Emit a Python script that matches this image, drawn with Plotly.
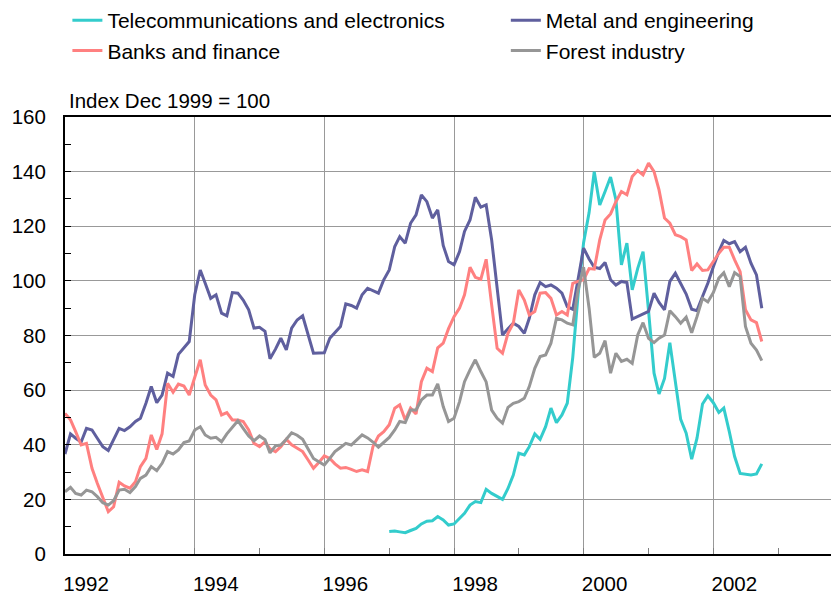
import pandas as pd
import plotly.graph_objects as go

# Monthly index values, Dec 1999 = 100
start_all = "1992-01-01"
start_telecom = "1997-01-01"

metal = [36.6, 44, 42.4, 41, 46, 45.4, 42.4, 39.3, 37.9, 41.8,
         46, 45.2, 46.6, 48.5, 49.7, 55.2, 61.3, 55.4, 58.2, 66.2,
         65, 73.1, 75.3, 77.8, 94.9, 104, 99.1, 93.6, 94.9, 88.2,
         87.2, 95.7, 95.5, 93, 89.4, 82.7, 83, 81.5, 71.5, 75,
         79, 74.7, 82.7, 85.7, 87.2, 80, 73.5, 73.6, 73.7, 79,
         81, 83.3, 91.6, 91, 90, 94.9, 97.3, 96.5, 95.5, 100.4,
         104, 112.6, 116.2, 113.8, 121.1, 124.2, 131.5, 129, 123, 126,
         113, 107.1, 105.9, 110.7, 118.1, 122.3, 130.6, 127, 127.8, 115,
         96.7, 80.2, 82.5, 84.5, 83.3, 80.8, 86.3, 94.9, 99.4, 97.9,
         98.5, 97.3, 95.5, 90.6, 89.6, 100.4, 112, 108, 105, 104.5,
         106.7, 100.4, 98.5, 99.8, 99.4, 86, 86.9, 87.9, 88.8, 95.5,
         92.1, 89.4, 99.8, 102.8, 99.1, 95.2, 89.6, 89.1, 94.3, 99.1,
         105.2, 110.7, 114.8, 113.6, 114.4, 110.7, 112.3, 106.5, 102.2, 90]

banks = [51.5, 49.1, 44.8, 39.9, 40.5, 31.4, 25.9, 21, 15.5, 17.3,
         26.3, 24.9, 24.1, 26.5, 32, 35, 43.6, 38.3, 44, 62.5,
         59.2, 62.2, 61.5, 58.2, 65, 71.1, 61.9, 58.2, 56.4, 50.9,
         51.8, 49.1, 49.1, 48.5, 45.4, 40.5, 39.3, 41.1, 38.5, 37.5,
         39.3, 42, 40, 38.7, 37.5, 34.5, 31.4, 33.5, 35.9, 35,
         33, 31.4, 31.7, 31, 30.2, 30.8, 30.2, 39.3, 43.2, 44.8,
         47.3, 53.4, 54.6, 49.1, 53.4, 51.3, 63.1, 68, 66.8, 75.5,
         77.2, 82.5, 86.9, 90, 94.9, 105, 101.3, 100.6, 107.9, 91.2,
         75.3, 73.5, 80.8, 84.5, 96.7, 93, 87.5, 88.8, 95.5, 95.7,
         93.6, 87.5, 88.8, 87.5, 99.1, 99.8, 100.4, 104.5, 104.3, 115,
         122.3, 124.5, 129, 132.7, 131.5, 138.2, 140.4, 138.8, 143.1, 140,
         133.3, 123, 121.1, 116.9, 116.2, 115, 103.8, 106.2, 103.8, 104,
         107.1, 110.1, 112.3, 112.3, 107.7, 103.4, 89.4, 85.7, 84.7, 77.8]

forest = [22.8, 24.4, 22.2, 21.6, 23.4, 22.8, 21, 18.8, 17.9, 19.5,
          23.4, 23.7, 22.5, 24.7, 27.7, 28.9, 32, 30.5, 33.2, 37.5,
          36.6, 38.1, 40.8, 41.4, 45.4, 46.6, 43.6, 42.4, 42.7, 41.1,
          44, 46.6, 48.8, 46, 43.2, 41.5, 43.2, 41.8, 37, 39.6,
          39.9, 42, 44.4, 43.5, 42, 38.5, 35, 33.8, 32.6, 35,
          37.5, 39, 40.5, 39.9, 41.7, 43.6, 42.5, 41, 39.1, 41,
          42.7, 45.4, 48.5, 48.1, 52.7, 52.7, 56.4, 58.2, 58.2, 62.3,
          54, 48.5, 49.7, 55.8, 63.1, 67.4, 71.1, 66.8, 63, 52.7,
          49.7, 47.9, 53.7, 55.2, 55.8, 57, 61.3, 68, 72.3, 72.9,
          77.2, 86.3, 85.7, 84.5, 83.9, 96.7, 105, 90, 72, 73.5,
          78.1, 66.2, 73.5, 70.5, 71.3, 69.8, 80.2, 84.7, 79, 77.4,
          79, 80.2, 89.1, 86.9, 84.5, 86.7, 81, 86.9, 93.6, 92.3,
          95.7, 101, 103, 97.9, 103, 101.6, 83.3, 77.2, 74.7, 70.8]

telecom = [8.2, 8.4, 8.1, 7.8, 8.6, 9.4, 11, 12, 12.2, 13.7,
           12.5, 10.6, 11, 13, 14.9, 17.9, 19.2, 18.8, 23.7, 22.2,
           21, 20, 24, 28.9, 36.9, 36.3, 39.3, 44, 42, 46.6,
           53.4, 48.1, 50.9, 55.2, 72, 95, 114, 125, 140, 127.8,
           132.7, 138, 129.7, 105.9, 113.8, 96.7, 104.6, 110.7, 89, 66.2,
           58.6, 64.3, 77.4, 63.7, 49.3, 44.2, 34.7, 42.4, 54.9, 57.9,
           55.4, 51.8, 53.4, 44.8, 35.7, 29.5, 29.3, 28.9, 29.3, 33]

names = ["Telecommunications and electronics", "Metal and engineering",
         "Banks and finance", "Forest industry"]
colors = ["#33CCCC", "#5F5F9E", "#FF8080", "#969696"]
legend_ids = ["legend", "legend2", "legend", "legend2"]
year_ticks = ["1992", "1994", "1996", "1998", "2000", "2002"]

dates_all = pd.date_range(start_all, periods=len(metal), freq="MS")
dates_tel = pd.date_range(start_telecom, periods=len(telecom), freq="MS")

series = [(dates_tel, telecom), (dates_all, metal), (dates_all, banks), (dates_all, forest)]

fig = go.Figure()
for (d, v), n, c, lg in zip(series, names, colors, legend_ids):
    fig.add_trace(go.Scatter(x=d, y=v, name=n, mode="lines", legend=lg,
                             line=dict(color=c, width=3)))

FONT = "Arial, Liberation Sans, sans-serif"
legend_common = dict(orientation="v", xref="container", yref="container",
                     y=1.0134, xanchor="left", yanchor="top",
                     font=dict(size=21), bgcolor="rgba(0,0,0,0)",
                     itemwidth=30)

fig.update_layout(
    width=831, height=597,
    margin=dict(l=65, r=0, t=117, b=43, autoexpand=False),
    paper_bgcolor="white", plot_bgcolor="white",
    font=dict(family=FONT, size=20, color="black"),
    showlegend=True,
    legend=dict(x=0.0811, **legend_common),
    legend2=dict(x=0.6087, **legend_common),
    xaxis=dict(type="date",
               range=["1992-01-01", "2003-10-26"],
               tickvals=[f"{y}-01-01" for y in year_ticks],
               ticktext=year_ticks,
               ticks="inside", ticklen=6, tickcolor="#808080",
               ticklabelshift=21, ticklabelstandoff=10,
               showgrid=True, gridcolor="#999999", gridwidth=1,
               minor=dict(dtick="M12", tick0="1992-01-01", ticks="inside",
                          ticklen=6, tickcolor="#808080", showgrid=False),
               showline=True, linecolor="black", linewidth=2, mirror=True,
               zeroline=False, tickfont=dict(size=20.5)),
    yaxis=dict(range=[0, 160], tickvals=[0, 20, 40, 60, 80, 100, 120, 140, 160],
               ticks="inside", ticklen=6, tickcolor="black",
               ticklabelstandoff=13,
               showgrid=True, gridcolor="#999999", gridwidth=1,
               minor=dict(dtick=10, ticks="inside", ticklen=6,
                          tickcolor="black", showgrid=False),
               showline=True, linecolor="black", linewidth=2,
               zeroline=False, tickfont=dict(size=20.5)),
    annotations=[dict(text="Index Dec 1999 = 100", xref="paper", yref="paper",
                      x=0, y=1, xanchor="left", yanchor="middle",
                      xshift=2, yshift=17, showarrow=False,
                      font=dict(size=20.5))],
)

fig.write_html("out.html",
               config={"displayModeBar": False},
               post_script="document.body.style.margin='0';"
                           "document.body.style.overflow='hidden';")
